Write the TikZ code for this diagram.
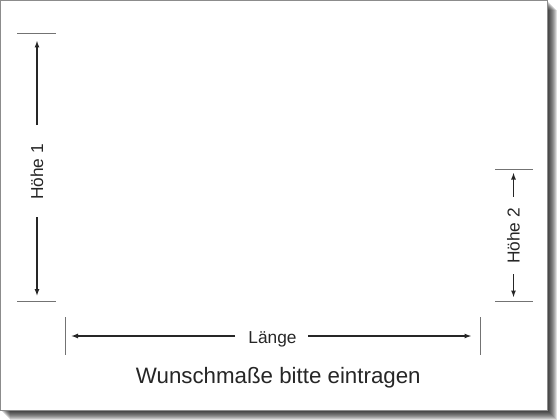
\documentclass[tikz,border=0pt]{standalone}
\usepackage{fontspec}
\setmainfont{Liberation Sans}
\usetikzlibrary{arrows.meta}
\begin{document}
\begin{tikzpicture}[x=1pt,y=-1pt,
  dimline/.style={draw=black!85, line width=1.3pt, -{Latex[length=7pt,width=5pt]}},
  ticka/.style={draw=black!55, line width=0.9pt},
  lbl/.style={font=\fontsize{17.3}{20}\selectfont, text=black!85, inner sep=0pt},
  bigtxt/.style={font=\fontsize{22.3}{26}\selectfont, text=black!85, inner sep=0pt},
]
\useasboundingbox (0,0) rectangle (560,420);
% shadow
\foreach \d in {2,...,10} {
  \fill[black, opacity=0.13] (\d,\d) rectangle (547+\d,410+\d);
}
\fill[white] (0,0) rectangle (548,411);
\draw[black!45, line width=1pt] (0.5,0.5) rectangle (547.5,410.5);

% Hoehe 1
\coordinate (t1a) at (17,33.5);  \coordinate (t1b) at (56,33.5);
\coordinate (t2a) at (17,301.5); \coordinate (t2b) at (56,301.5);
\draw[ticka] (t1a) -- (t1b);
\draw[ticka] (t2a) -- (t2b);
\node[lbl, rotate=90] (h1) at (37,172) {Höhe 1};
\coordinate (h1u) at (37,125);   \coordinate (h1top) at (37,40.5);
\coordinate (h1d) at (37,217);   \coordinate (h1bot) at (37,296);
\draw[dimline] (h1u) -- (h1top);
\draw[dimline] (h1d) -- (h1bot);

% Hoehe 2
\coordinate (t3a) at (495,169);  \coordinate (t3b) at (533,169);
\coordinate (t4a) at (495,301.5); \coordinate (t4b) at (533,301.5);
\draw[ticka] (t3a) -- (t3b);
\draw[ticka] (t4a) -- (t4b);
\node[lbl, rotate=90] (h2) at (513.5,236) {Höhe 2};
\coordinate (h2u) at (513.5,196.5); \coordinate (h2top) at (513.5,172.5);
\coordinate (h2d) at (513.5,274);   \coordinate (h2bot) at (513.5,297.5);
\draw[dimline] (h2u) -- (h2top);
\draw[dimline] (h2d) -- (h2bot);

% Laenge
\coordinate (t5a) at (65.7,317); \coordinate (t5b) at (65.7,355);
\coordinate (t6a) at (480.7,317); \coordinate (t6b) at (480.7,355);
\draw[ticka] (t5a) -- (t5b);
\draw[ticka] (t6a) -- (t6b);
\node[lbl, anchor=base] (lg) at (272.5,343) {Länge};
\coordinate (lgl) at (235,336);  \coordinate (lgleft) at (71,336);
\coordinate (lgr) at (308,336);  \coordinate (lgright) at (471.5,336);
\draw[dimline] (lgl) -- (lgleft);
\draw[dimline] (lgr) -- (lgright);

% caption
\node[bigtxt, anchor=base] (cap) at (278.3,383) {Wunschmaße bitte eintragen};
\end{tikzpicture}
\end{document}
